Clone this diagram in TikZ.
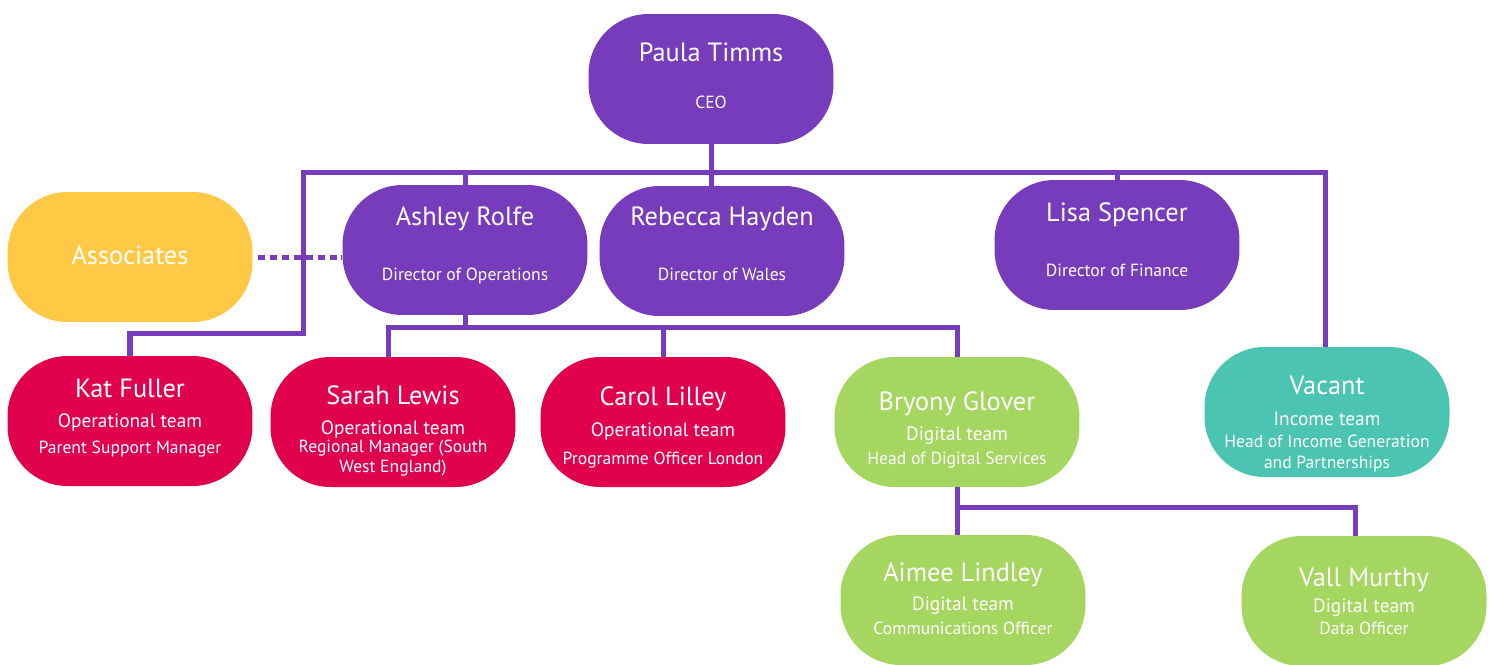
\documentclass[tikz,border=0pt]{standalone}
\usepackage{fontspec}
\setmainfont{PT Sans}
\definecolor{ocpurple}{HTML}{763CBC}
\definecolor{ocred}{HTML}{E0004D}
\definecolor{ocyellow}{HTML}{FFC845}
\definecolor{ocgreen}{HTML}{A5D65F}
\definecolor{octeal}{HTML}{4BC5B1}
\newcommand{\pname}[1]{{\fontsize{15}{18}\selectfont #1}}
\newcommand{\pteam}[1]{{\fontsize{11}{14}\selectfont #1}}
% zero-width rules to nudge the text block inside a pill
\newcommand{\txtup}[1]{\rule[-#1]{0pt}{0pt}}
\newcommand{\txtdn}[1]{\rule{0pt}{#1}}
\tikzset{pill/.style={minimum width=4.9cm, minimum height=2.6cm, rounded corners=1.2cm, text=white, align=center, inner sep=1mm, font=\fontsize{10}{14}\selectfont}}
\tikzset{link/.style={draw=ocpurple, line width=2.85pt}}

\begin{document}
\begin{tikzpicture}[x=0.02cm, y=-0.02cm]
    \useasboundingbox (0,0) rectangle (1496,664);

    \node[pill, fill=ocpurple] (ceo) at (711,79) {\pname{Paula Timms}\\[12.9pt] CEO\txtup{3.4pt}};

    \node[pill, fill=ocpurple] (ashley) at (465,250) {\pname{Ashley Rolfe}\\[17.3pt] Director of Operations\txtup{7.3pt}};
    \node[pill, fill=ocpurple] (rebecca) at (722,251) {\pname{Rebecca Hayden}\\[17.3pt] Director of Wales\txtup{8.5pt}};
    \node[pill, fill=ocpurple] (lisa) at (1117,245) {\pname{Lisa Spencer}\\[17.3pt] Director of Finance\txtup{6.3pt}};
    \node[pill, fill=ocyellow] (assoc) at (130,257) {\pname{Associates}\txtup{2.3pt}};

    \node[pill, fill=ocred] (kat) at (130,421) {\pname{Kat Fuller}\\[3.3pt] \pteam{Operational team}\\[0.4pt] Parent Support Manager\txtup{5.6pt}};
    \node[pill, fill=ocred] (sarah) at (393,422) {\txtdn{21pt}\pname{Sarah Lewis}\\[2.6pt] \pteam{Operational team}\\[-3.7pt] Regional Manager (South\\[-2.6pt] West England)};
    \node[pill, fill=ocred] (carol) at (663,422) {\txtdn{17.1pt}\pname{Carol Lilley}\\[3.9pt] \pteam{Operational team}\\[1.9pt] Programme Officer London};
    \node[pill, fill=ocgreen] (bryony) at (957,422) {\txtdn{19.9pt}\pname{Bryony Glover}\\[3.4pt] \pteam{Digital team}\\[-0.3pt] Head of Digital Services};
    \node[pill, fill=octeal] (vacant) at (1327,412) {\txtdn{24.3pt}\pname{Vacant}\\[3.3pt] \pteam{Income team}\\[-1.6pt] Head of Income Generation\\[-2pt] and Partnerships};

    \node[pill, fill=ocgreen] (aimee) at (963,600) {\pname{Aimee Lindley}\\[2.6pt] \pteam{Digital team}\\[-0.3pt] Communications Officer\txtup{1.7pt}};
    \node[pill, fill=ocgreen] (vall) at (1364,601) {\pname{Vall Murthy}\\[0.9pt] \pteam{Digital team}\\[-1.6pt] Data Officer};

    % bus lines
    \coordinate (topL) at (303,172);
    \coordinate (topR) at (1325,172);
    \coordinate (katbend) at (303,333);
    \coordinate (midbus) at (388,327);
    \coordinate (lowbus) at (958,507);

    \draw[link] (kat.north) |- (katbend) -- (topL) -- (topR) -- (topR |- vacant.north);
    \draw[link] (ceo.south) -- (ceo.south |- rebecca.north);
    \draw[link] (ashley.north) -- (ashley.north |- topL);
    \draw[link] (lisa.north) -- (lisa.north |- topL);

    \draw[link] (ashley.south) -- (ashley.south |- midbus);
    \draw[link] (midbus |- sarah.north) -- (midbus) -| (bryony.north);
    \draw[link] (carol.north) -- (carol.north |- midbus);

    \draw[link] (bryony.south) -- (bryony.south |- aimee.north);
    \draw[link] (bryony.south |- lowbus) -| ([xshift=-0.18cm]vall.north);

    \draw[link, dash pattern=on 4pt off 2.8pt] ([xshift=0.1cm]assoc.east) -- (assoc.east -| ashley.west);
\end{tikzpicture}
\end{document}
